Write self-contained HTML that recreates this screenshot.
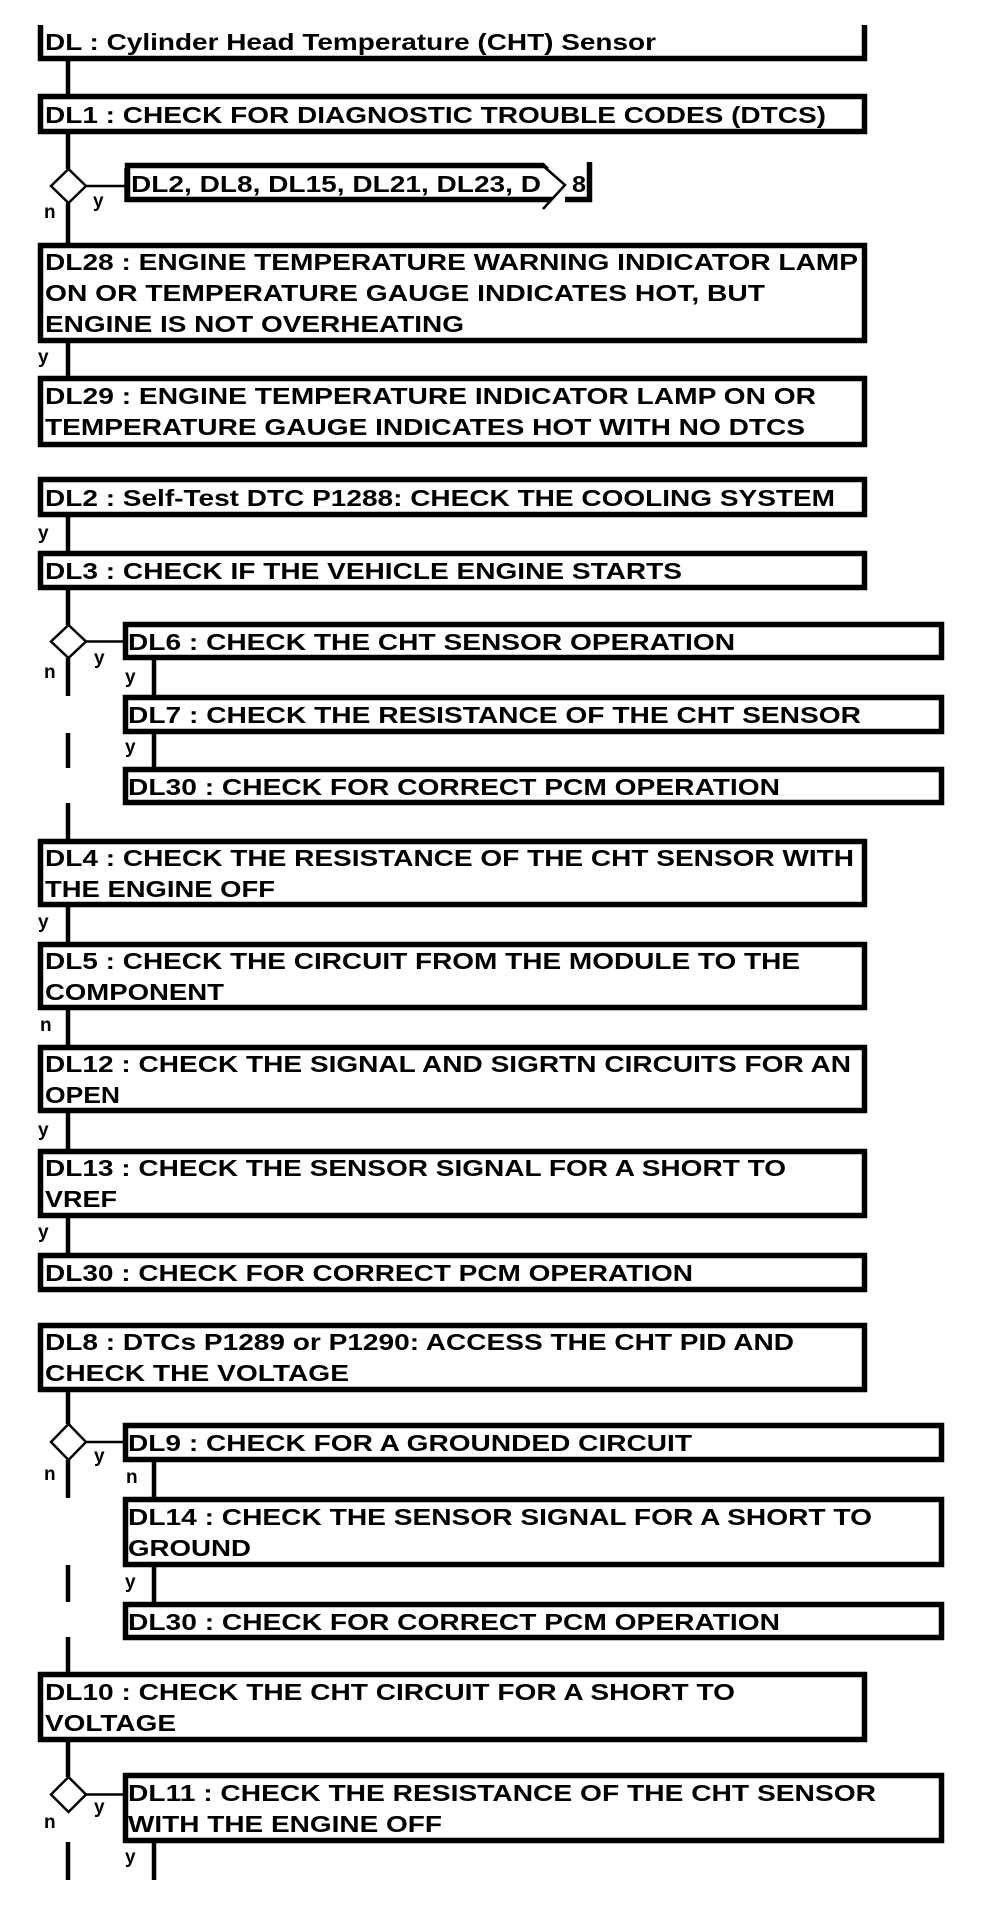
<!DOCTYPE html>
<html><head><meta charset="utf-8"><style>
html,body{margin:0;padding:0;background:#fff;}
svg{display:block;}
text{font-family:"Liberation Sans",Arial,sans-serif;font-weight:bold;fill:#000;}
.t{font-size:23px;}
.l{font-size:19px;}
</style></head><body>
<svg width="992" height="1922" viewBox="0 0 992 1922" xmlns="http://www.w3.org/2000/svg">
<g fill="none" stroke="#000" stroke-width="5.5">
<!-- title: no top border -->
<polyline points="40.5,25 40.5,58.5 864.5,58.5 864.5,25"/>
<rect x="40.5" y="96.5" width="824" height="35"/>
<rect x="40.5" y="245.5" width="824" height="95"/>
<rect x="40.5" y="378.5" width="824" height="66"/>
<rect x="40.5" y="479.5" width="824" height="35"/>
<rect x="40.5" y="553.5" width="824" height="34"/>
<rect x="125.5" y="624.5" width="816" height="33"/>
<rect x="125.5" y="697.5" width="816" height="34"/>
<rect x="125.5" y="769.5" width="816" height="33"/>
<rect x="40.5" y="841.5" width="824" height="63"/>
<rect x="40.5" y="944.5" width="824" height="63"/>
<rect x="40.5" y="1047.5" width="824" height="63"/>
<rect x="40.5" y="1151.5" width="824" height="64"/>
<rect x="40.5" y="1255.5" width="824" height="34"/>
<rect x="40.5" y="1325.5" width="824" height="64"/>
<rect x="125.5" y="1425.5" width="816" height="34"/>
<rect x="125.5" y="1499.5" width="816" height="65"/>
<rect x="125.5" y="1604.5" width="816" height="33"/>
<rect x="40.5" y="1674.5" width="824" height="65"/>
<rect x="125.5" y="1775.5" width="816" height="65"/>
<!-- small DL2,... box -->
<rect x="127.5" y="165.5" width="462" height="34"/>
</g>
<!-- chevron over small box -->
<polygon points="541,160 566,185 543,210 600,210 600,160" fill="#fff"/>
<polyline points="589.5,162 589.5,202" fill="none" stroke="#000" stroke-width="5.5"/>
<line x1="565" y1="199.5" x2="592" y2="199.5" stroke="#000" stroke-width="5.5"/>
<line x1="127" y1="168" x2="127" y2="202" stroke="#000" stroke-width="5.5"/>
<polyline points="541,164 565,185 543,209" fill="none" stroke="#000" stroke-width="2.5"/>

<!-- main vertical lines -->
<g stroke="#000" stroke-width="4.5">
<line x1="68" y1="61" x2="68" y2="94"/>
<line x1="68" y1="134" x2="68" y2="169"/>
<line x1="68" y1="203" x2="68" y2="243"/>
<line x1="68" y1="343" x2="68" y2="376"/>
<line x1="68" y1="517" x2="68" y2="551"/>
<line x1="68" y1="590" x2="68" y2="625"/>
<line x1="68" y1="658" x2="68" y2="696"/>
<line x1="68" y1="733" x2="68" y2="768"/>
<line x1="68" y1="803" x2="68" y2="839"/>
<line x1="68" y1="907" x2="68" y2="942"/>
<line x1="68" y1="1010" x2="68" y2="1045"/>
<line x1="68" y1="1113" x2="68" y2="1149"/>
<line x1="68" y1="1218" x2="68" y2="1253"/>
<line x1="68" y1="1392" x2="68" y2="1424"/>
<line x1="68" y1="1460" x2="68" y2="1498"/>
<line x1="68" y1="1565" x2="68" y2="1602"/>
<line x1="68" y1="1637" x2="68" y2="1672"/>
<line x1="68" y1="1742" x2="68" y2="1777"/>
<line x1="68" y1="1842" x2="68" y2="1880"/>
<!-- branch lines -->
<line x1="154" y1="660" x2="154" y2="695"/>
<line x1="154" y1="734" x2="154" y2="767"/>
<line x1="154" y1="1462" x2="154" y2="1497"/>
<line x1="154" y1="1567" x2="154" y2="1602"/>
<line x1="154" y1="1843" x2="154" y2="1880"/>
</g>
<!-- diamonds and horizontal connectors -->
<g fill="#fff" stroke="#000" stroke-width="2.5">
<polygon points="68.5,169 86,186 68.5,203 51,186"/>
<polygon points="68.5,625 86,641.5 68.5,658 51,641.5"/>
<polygon points="68.5,1424 86,1442 68.5,1460 51,1442"/>
<polygon points="68.5,1777 86,1794.5 68.5,1812 51,1794.5"/>
</g>
<g stroke="#000" stroke-width="2.5">
<line x1="86" y1="186" x2="125" y2="186"/>
<line x1="86" y1="641.5" x2="123" y2="641.5"/>
<line x1="86" y1="1442" x2="123" y2="1442"/>
<line x1="86" y1="1794.5" x2="123" y2="1794.5"/>
</g>

<!-- box text -->
<text class="t" x="45" y="50" textLength="611" lengthAdjust="spacingAndGlyphs">DL : Cylinder Head Temperature (CHT) Sensor</text>
<text class="t" x="45" y="123" textLength="781" lengthAdjust="spacingAndGlyphs">DL1 : CHECK FOR DIAGNOSTIC TROUBLE CODES (DTCS)</text>
<text class="t" x="131" y="192" textLength="410" lengthAdjust="spacingAndGlyphs">DL2, DL8, DL15, DL21, DL23, D</text>
<text class="t" x="572" y="192" textLength="14" lengthAdjust="spacingAndGlyphs">8</text>
<text class="t" x="45" y="270" textLength="813" lengthAdjust="spacingAndGlyphs">DL28 : ENGINE TEMPERATURE WARNING INDICATOR LAMP</text>
<text class="t" x="45" y="301" textLength="720" lengthAdjust="spacingAndGlyphs">ON OR TEMPERATURE GAUGE INDICATES HOT, BUT</text>
<text class="t" x="45" y="332" textLength="419" lengthAdjust="spacingAndGlyphs">ENGINE IS NOT OVERHEATING</text>
<text class="t" x="45" y="404" textLength="771" lengthAdjust="spacingAndGlyphs">DL29 : ENGINE TEMPERATURE INDICATOR LAMP ON OR</text>
<text class="t" x="45" y="435" textLength="760" lengthAdjust="spacingAndGlyphs">TEMPERATURE GAUGE INDICATES HOT WITH NO DTCS</text>
<text class="t" x="45" y="506" textLength="790" lengthAdjust="spacingAndGlyphs">DL2 : Self-Test DTC P1288: CHECK THE COOLING SYSTEM</text>
<text class="t" x="45" y="579" textLength="637" lengthAdjust="spacingAndGlyphs">DL3 : CHECK IF THE VEHICLE ENGINE STARTS</text>
<text class="t" x="128" y="650" textLength="607" lengthAdjust="spacingAndGlyphs">DL6 : CHECK THE CHT SENSOR OPERATION</text>
<text class="t" x="128" y="723" textLength="733" lengthAdjust="spacingAndGlyphs">DL7 : CHECK THE RESISTANCE OF THE CHT SENSOR</text>
<text class="t" x="128" y="795" textLength="652" lengthAdjust="spacingAndGlyphs">DL30 : CHECK FOR CORRECT PCM OPERATION</text>
<text class="t" x="45" y="866" textLength="809" lengthAdjust="spacingAndGlyphs">DL4 : CHECK THE RESISTANCE OF THE CHT SENSOR WITH</text>
<text class="t" x="45" y="897" textLength="230" lengthAdjust="spacingAndGlyphs">THE ENGINE OFF</text>
<text class="t" x="45" y="969" textLength="755" lengthAdjust="spacingAndGlyphs">DL5 : CHECK THE CIRCUIT FROM THE MODULE TO THE</text>
<text class="t" x="45" y="1000" textLength="179" lengthAdjust="spacingAndGlyphs">COMPONENT</text>
<text class="t" x="45" y="1072" textLength="806" lengthAdjust="spacingAndGlyphs">DL12 : CHECK THE SIGNAL AND SIGRTN CIRCUITS FOR AN</text>
<text class="t" x="45" y="1103" textLength="75" lengthAdjust="spacingAndGlyphs">OPEN</text>
<text class="t" x="45" y="1176" textLength="741" lengthAdjust="spacingAndGlyphs">DL13 : CHECK THE SENSOR SIGNAL FOR A SHORT TO</text>
<text class="t" x="45" y="1207" textLength="72" lengthAdjust="spacingAndGlyphs">VREF</text>
<text class="t" x="45" y="1281" textLength="648" lengthAdjust="spacingAndGlyphs">DL30 : CHECK FOR CORRECT PCM OPERATION</text>
<text class="t" x="45" y="1350" textLength="749" lengthAdjust="spacingAndGlyphs">DL8 : DTCs P1289 or P1290: ACCESS THE CHT PID AND</text>
<text class="t" x="45" y="1381" textLength="304" lengthAdjust="spacingAndGlyphs">CHECK THE VOLTAGE</text>
<text class="t" x="128" y="1451" textLength="564" lengthAdjust="spacingAndGlyphs">DL9 : CHECK FOR A GROUNDED CIRCUIT</text>
<text class="t" x="128" y="1525" textLength="744" lengthAdjust="spacingAndGlyphs">DL14 : CHECK THE SENSOR SIGNAL FOR A SHORT TO</text>
<text class="t" x="128" y="1556" textLength="123" lengthAdjust="spacingAndGlyphs">GROUND</text>
<text class="t" x="128" y="1630" textLength="652" lengthAdjust="spacingAndGlyphs">DL30 : CHECK FOR CORRECT PCM OPERATION</text>
<text class="t" x="45" y="1700" textLength="690" lengthAdjust="spacingAndGlyphs">DL10 : CHECK THE CHT CIRCUIT FOR A SHORT TO</text>
<text class="t" x="45" y="1731" textLength="131" lengthAdjust="spacingAndGlyphs">VOLTAGE</text>
<text class="t" x="128" y="1801" textLength="748" lengthAdjust="spacingAndGlyphs">DL11 : CHECK THE RESISTANCE OF THE CHT SENSOR</text>
<text class="t" x="128" y="1832" textLength="314" lengthAdjust="spacingAndGlyphs">WITH THE ENGINE OFF</text>

<!-- connector labels -->
<text class="l" x="93" y="207">y</text>
<text class="l" x="44" y="218">n</text>
<text class="l" x="38" y="363">y</text>
<text class="l" x="38" y="539">y</text>
<text class="l" x="94" y="664">y</text>
<text class="l" x="44" y="678">n</text>
<text class="l" x="125" y="683">y</text>
<text class="l" x="125" y="753">y</text>
<text class="l" x="38" y="928">y</text>
<text class="l" x="40" y="1031">n</text>
<text class="l" x="38" y="1136">y</text>
<text class="l" x="38" y="1238">y</text>
<text class="l" x="94" y="1462">y</text>
<text class="l" x="44" y="1480">n</text>
<text class="l" x="126" y="1483">n</text>
<text class="l" x="125" y="1588">y</text>
<text class="l" x="94" y="1813">y</text>
<text class="l" x="44" y="1828">n</text>
<text class="l" x="125" y="1863">y</text>
</svg>
</body></html>
